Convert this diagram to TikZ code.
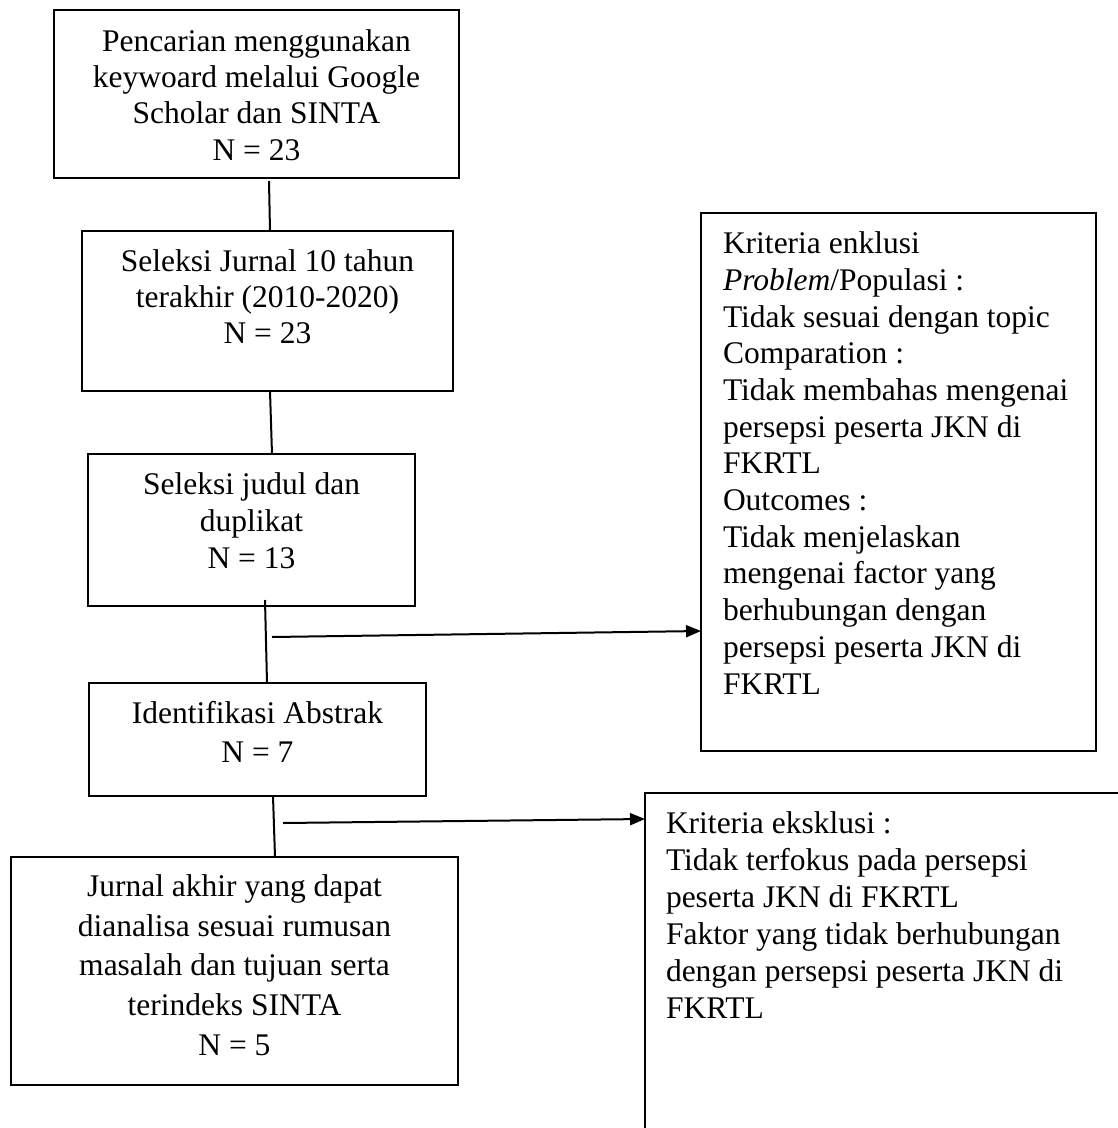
\documentclass[tikz,border=0pt]{standalone}
\usepackage{fontspec}
\setmainfont{Liberation Serif}
\usetikzlibrary{arrows.meta,calc}
\begin{document}
\begin{tikzpicture}[x=1pt,y=-1pt,
  box/.style={draw,line width=2pt,rectangle,inner sep=0pt,outer sep=0pt},
  txt/.style={inner sep=0pt,outer sep=0pt,anchor=base,align=center},
  ltxt/.style={inner sep=0pt,outer sep=0pt,anchor=base west,align=left},
  conn/.style={line width=2pt},
  arr/.style={line width=2pt,-{Triangle[length=15pt,width=12pt]}}]
\useasboundingbox (0,0) rectangle (1118,1128);
\clip (0,0) rectangle (1118,1128);
% boxes
\node[box,minimum width=405pt,minimum height=168pt] (b1) at (256.5,94) {};
\node[box,minimum width=371pt,minimum height=160pt] (b2) at (267.5,311) {};
\node[box,minimum width=327pt,minimum height=152pt] (b3) at (251.5,530) {};
\node[box,minimum width=337pt,minimum height=113pt] (b4) at (257.5,739.5) {};
\node[box,minimum width=447pt,minimum height=228pt] (b5) at (234.5,971) {};
\node[box,minimum width=395pt,minimum height=538pt] (r1) at (898.5,482) {};
\node[box,minimum width=500pt,minimum height=400pt,anchor=north west] (r2) at (645,793) {};
% texts (anchor = baseline of last line)
\node[txt,font=\fontsize{31.5pt}{36.1pt}\selectfont] (t1) at (256.5,160)
  {Pencarian menggunakan\\keywoard melalui Google\\Scholar dan SINTA\\N = 23};
\node[txt,font=\fontsize{31.5pt}{35.8pt}\selectfont] (t2) at (267.5,343)
  {Seleksi Jurnal 10 tahun\\terakhir (2010-2020)\\N = 23};
\node[txt,font=\fontsize{31.5pt}{36.7pt}\selectfont] (t3) at (251.5,568)
  {Seleksi judul dan\\duplikat\\N = 13};
\node[txt,font=\fontsize{31.5pt}{38.5pt}\selectfont] (t4) at (257.5,762)
  {Identifikasi Abstrak\\N = 7};
\node[txt,font=\fontsize{31.5pt}{39.6pt}\selectfont] (t5) at (234.5,1055)
  {Jurnal akhir yang dapat\\dianalisa sesuai rumusan\\masalah dan tujuan serta\\terindeks SINTA\\N = 5};
\node[ltxt,font=\fontsize{31.5pt}{36.7pt}\selectfont] (t6) at (723,694)
  {Kriteria enklusi\\\textit{Problem}/Populasi :\\Tidak sesuai dengan topic\\Comparation :\\Tidak membahas mengenai\\persepsi peserta JKN di\\FKRTL\\Outcomes :\\Tidak menjelaskan\\mengenai factor yang\\berhubungan dengan\\persepsi peserta JKN di\\FKRTL};
\node[ltxt,font=\fontsize{31.5pt}{37pt}\selectfont] (t7) at (666,1018)
  {Kriteria eksklusi :\\Tidak terfokus pada persepsi\\peserta JKN di FKRTL\\Faktor yang tidak berhubungan\\dengan persepsi peserta JKN di\\FKRTL};
% connectors
\draw[conn] ([xshift=12.5pt,yshift=-3pt]b1.south) -- ([xshift=2.5pt]b2.north);
\draw[conn] ([xshift=2.5pt]b2.south) -- ([xshift=20.5pt]b3.north);
\draw[conn] ([xshift=13.5pt,yshift=6pt]b3.south) -- ([xshift=9.5pt]b4.north);
\draw[conn] ([xshift=15.5pt]b4.south) -- ([xshift=40.5pt]b5.north);
\coordinate (a1) at (272,637);
\coordinate (a2) at (283,823);
\draw[arr] (a1) -- ([yshift=-149pt]r1.west);
\draw[arr] (a2) -- ([yshift=-26pt]r2.north west);
\end{tikzpicture}
\end{document}
